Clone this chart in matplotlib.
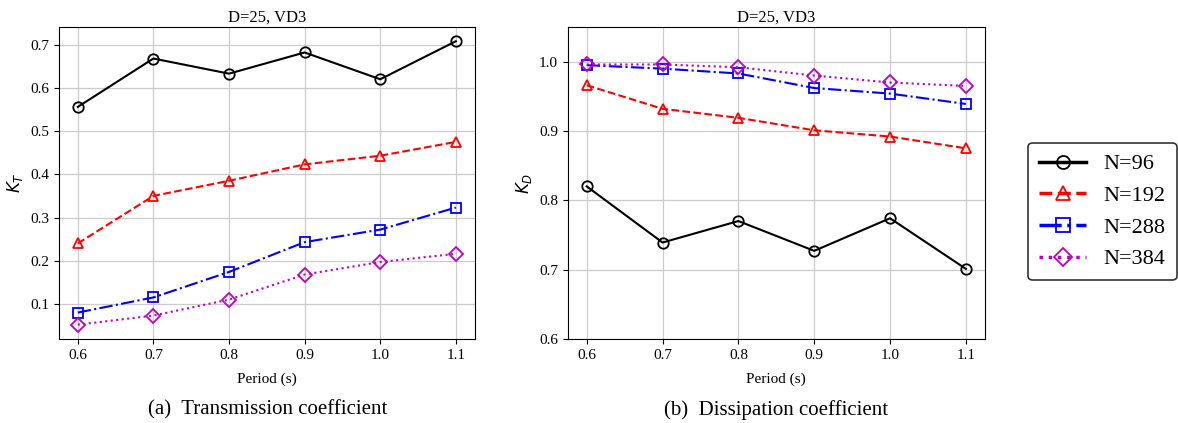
import matplotlib
matplotlib.use("Agg")
import matplotlib.pyplot as plt

plt.rcParams["font.family"] = ["Liberation Serif", "DejaVu Serif"]
plt.rcParams["mathtext.fontset"] = "dejavusans"

period = [0.6, 0.7, 0.8, 0.9, 1.0, 1.1]
labels = ["N=96", "N=192", "N=288", "N=384"]

kt_96 = [0.556, 0.668, 0.633, 0.682, 0.620, 0.708]
kt_192 = [0.240, 0.350, 0.385, 0.423, 0.443, 0.475]
kt_288 = [0.080, 0.115, 0.174, 0.243, 0.272, 0.323]
kt_384 = [0.052, 0.073, 0.110, 0.168, 0.197, 0.216]

kd_96 = [0.820, 0.739, 0.770, 0.727, 0.774, 0.701]
kd_192 = [0.966, 0.932, 0.919, 0.901, 0.892, 0.875]
kd_288 = [0.995, 0.990, 0.983, 0.962, 0.954, 0.939]
kd_384 = [0.996, 0.996, 0.992, 0.980, 0.970, 0.965]

styles = [
    dict(color="black", linestyle="-", marker="o"),
    dict(color="red", linestyle="--", marker="^"),
    dict(color="blue", linestyle="-.", marker="s"),
    dict(color="m", linestyle=":", marker="D"),
]

fig = plt.figure(figsize=(11.78, 4.23), dpi=100)
ax1 = fig.add_axes([0.050, 0.199, 0.353, 0.737])
ax2 = fig.add_axes([0.482, 0.199, 0.354, 0.737])


def draw(ax, series, ylabel):
    handles = []
    for ys, lab, st in zip(series, labels, styles):
        ms = 7 if st["marker"] == "D" else 7.5
        h, = ax.plot(period, ys, label=lab, linewidth=1.5, markersize=ms,
                     markerfacecolor="none", markeredgewidth=1.3, **st)
        handles.append(h)
    ax.set_xticks(period)
    ax.set_xticklabels([f"{p:.1f}" for p in period])
    ax.tick_params(labelsize=11)
    ax.grid(True, color="#cccccc", linewidth=0.9)
    ax.set_xlabel("Period (s)", fontsize=11, labelpad=8)
    ax.set_ylabel(ylabel, fontsize=12)
    ax.set_title("D=25, VD3", fontsize=12, pad=4)
    return handles


draw(ax1, [kt_96, kt_192, kt_288, kt_384], "$K_T$")
handles = draw(ax2, [kd_96, kd_192, kd_288, kd_384], "$K_D$")
ax2.set_ylim(0.6, 1.05)
ax2.set_yticks([0.6, 0.7, 0.8, 0.9, 1.0])

leg = fig.legend(handles, labels, loc="center right",
                 bbox_to_anchor=(0.999, 0.5), borderaxespad=0, fontsize=16,
                 handlelength=2.1, handletextpad=0.8, markerscale=1.25,
                 fancybox=True, framealpha=1, edgecolor="#333333",
                 borderpad=0.5, labelspacing=0.5)
leg.get_frame().set_linewidth(1.2)
for line in leg.get_lines():
    line.set_linewidth(2.5)

fig.text(0.227, 0.02, "(a)  Transmission coefficient", ha="center",
         fontsize=15)
fig.text(0.659, 0.02, "(b)  Dissipation coefficient", ha="center",
         fontsize=15)

fig.savefig("out.png", dpi=100)
